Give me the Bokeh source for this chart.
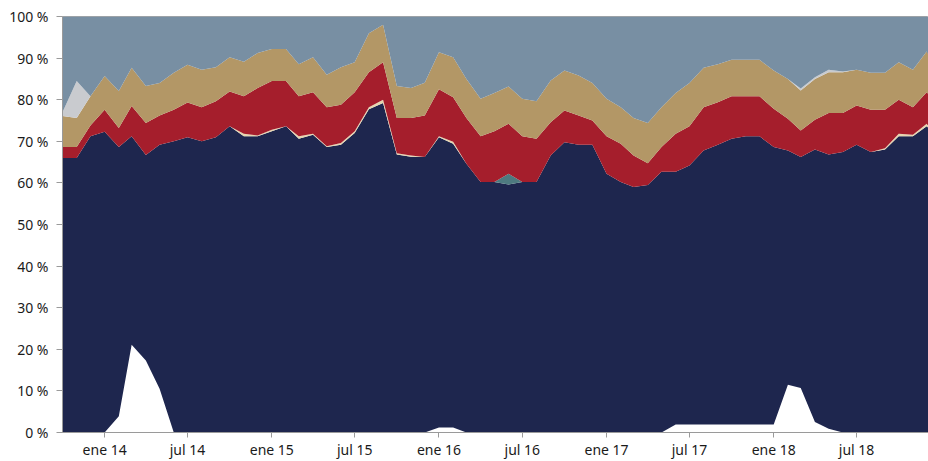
from datetime import datetime
import pandas as pd
from bokeh.plotting import figure
from bokeh.models import ColumnDataSource, FixedTicker, Range1d
from bokeh.embed import file_html
from bokeh.resources import INLINE

# ---- data (monthly shares, %, stacked bottom -> top) ----
months = pd.date_range("2013-10-01", periods=64, freq="MS")

white = [0, 0, 0, 0, 3.9, 21.1, 17.3, 10.5, 0, 0,
         0, 0, 0, 0, 0, 0, 0, 0, 0, 0,
         0, 0, 0, 0, 0, 0, 0, 1.2, 1.2, 0,
         0, 0, 0, 0, 0, 0, 0, 0, 0, 0,
         0, 0, 0, 0, 1.9, 1.9, 1.9, 1.9, 1.9, 1.9,
         1.9, 1.9, 11.5, 10.7, 2.5, 0.9, 0, 0, 0, 0,
         0, 0, 0, 0]

navy = [66.0, 66.0, 71.2, 72.3, 64.7, 50.1, 49.4, 58.7, 70.0, 71.0,
        70.0, 71.0, 73.6, 71.2, 71.2, 72.4, 73.6, 70.6, 71.6, 68.6,
        69.2, 72.0, 77.7, 79.2, 66.8, 66.3, 66.2, 69.8, 68.2, 64.6,
        60.2, 60.2, 59.6, 60.2, 60.2, 66.6, 69.8, 69.2, 69.2, 62.2,
        60.2, 59.0, 59.5, 62.7, 60.8, 62.3, 65.9, 67.3, 68.7, 69.3,
        69.3, 66.7, 56.3, 55.5, 65.5, 65.9, 67.4, 69.2, 67.4, 68.0,
        71.2, 71.2, 73.6, 70.4]

cream = [0, 0, 0, 0, 0, 0, 0, 0, 0, 0,
         0, 0, 0, 0.6, 0.2, 0.4, 0, 0.6, 0.2, 0.2,
         0.4, 0.4, 0.5, 0.8, 0.3, 0.3, 0, 0.2, 0.5, 0,
         0, 0, 0, 0, 0, 0, 0, 0, 0, 0,
         0, 0, 0, 0, 0, 0, 0, 0, 0, 0,
         0, 0, 0, 0, 0, 0, 0, 0, 0, 0.3,
         0.6, 0.4, 0.6, 0.3]

teal = [0, 0, 0, 0, 0, 0, 0, 0, 0, 0,
        0, 0, 0, 0, 0, 0, 0, 0, 0, 0,
        0, 0, 0, 0, 0, 0, 0, 0, 0, 0,
        0, 0, 2.6, 0, 0, 0, 0, 0, 0, 0,
        0, 0, 0, 0, 0, 0, 0, 0, 0, 0,
        0, 0, 0, 0, 0, 0, 0, 0, 0, 0,
        0, 0, 0, 0]

red = [2.6, 2.6, 2.6, 5.3, 4.6, 7.3, 7.7, 7.0, 7.6, 8.3,
       8.2, 8.6, 8.4, 9.0, 11.4, 11.7, 10.9, 9.6, 10.0, 9.4,
       9.2, 9.4, 8.4, 9.0, 8.5, 9.0, 10.0, 11.3, 10.7, 11.0,
       11.0, 12.2, 12.0, 11.0, 10.4, 8.0, 7.6, 7.0, 5.8, 9.0,
       9.2, 7.6, 5.2, 5.9, 9.1, 9.4, 10.4, 10.2, 10.2, 9.6,
       9.6, 9.2, 7.6, 6.4, 7.2, 10.0, 9.4, 9.4, 10.2, 9.3,
       8.2, 6.6, 7.6, 7.2]

tan = [7.5, 7.0, 7.0, 8.1, 8.9, 9.2, 8.9, 7.8, 8.9, 9.1,
       9.0, 8.2, 8.2, 8.3, 8.4, 7.7, 7.7, 7.7, 8.4, 7.8,
       9.0, 7.2, 9.4, 9.0, 7.7, 7.2, 7.9, 8.9, 9.6, 9.4,
       9.0, 9.2, 9.0, 9.0, 9.0, 10.0, 9.6, 9.6, 9.0, 9.0,
       8.8, 9.0, 9.7, 9.6, 9.8, 10.4, 9.5, 9.1, 8.8, 8.8,
       8.8, 9.2, 9.6, 9.6, 9.8, 9.8, 9.8, 8.6, 8.9, 8.9,
       9.0, 9.0, 9.8, 6.9]

gray = [0.9, 8.9, 0, 0, 0, 0, 0, 0, 0, 0,
        0, 0, 0, 0, 0, 0, 0, 0, 0, 0,
        0, 0, 0, 0, 0, 0, 0, 0, 0, 0,
        0, 0, 0, 0, 0, 0, 0, 0, 0, 0,
        0, 0, 0, 0, 0, 0, 0, 0, 0, 0,
        0, 0, 0, 0.5, 0.4, 0.6, 0.2, 0, 0, 0,
        0, 0, 0, 0]

# remainder up to 100 %
rest = [round(100 - sum(v), 1) for v in zip(white, navy, cream, teal, red, tan, gray)]

tick_dates = ["2014-01-01", "2014-07-01", "2015-01-01", "2015-07-01", "2016-01-01",
              "2016-07-01", "2017-01-01", "2017-07-01", "2018-01-01", "2018-07-01"]
tick_labels = ["ene 14", "jul 14", "ene 15", "jul 15", "ene 16",
               "jul 16", "ene 17", "jul 17", "ene 18", "jul 18"]
y_ticks = [0, 10, 20, 30, 40, 50, 60, 70, 80, 90, 100]

names = ["white", "navy", "cream", "teal", "red", "tan", "gray", "rest"]
colors = ["#ffffff", "#1e264e", "#e6d6b0", "#4e7a80", "#a51e2c", "#b39766", "#c9cbcf", "#788fa3"]

source = ColumnDataSource(dict(date=months, white=white, navy=navy, cream=cream, teal=teal,
                               red=red, tan=tan, gray=gray, rest=rest))

p = figure(width=928, height=461, x_axis_type="datetime",
           x_range=Range1d(datetime(2013, 10, 1), datetime(2018, 12, 5)),
           y_range=Range1d(0, 100),
           output_backend="svg", toolbar_location=None,
           min_border_left=62, min_border_right=0, min_border_top=16, min_border_bottom=29)

p.varea_stack(stackers=names, x="date", color=colors, source=source)

FONT = "Noto Sans"
tick_ms = [pd.Timestamp(d).timestamp() * 1000.0 for d in tick_dates]
p.xaxis.ticker = FixedTicker(ticks=tick_ms)
p.xaxis.major_label_overrides = {t: lab for t, lab in zip(tick_ms, tick_labels)}
p.yaxis.ticker = FixedTicker(ticks=y_ticks)
p.yaxis.major_label_overrides = {v: f"{v} %" for v in y_ticks}

for ax in (p.xaxis, p.yaxis):
    ax.axis_line_color = "#9a9a9a"
    ax.major_tick_line_color = "#9a9a9a"
    ax.minor_tick_line_color = None
    ax.major_tick_in = 0
    ax.major_label_text_font = FONT
    ax.major_label_text_font_size = "14px"
    ax.major_label_text_color = "#1a1a1a"

p.xaxis.major_tick_out = 5
p.xaxis.major_label_standoff = 2
p.yaxis.major_tick_out = 6
p.yaxis.major_label_standoff = 8

p.xgrid.grid_line_color = None
p.ygrid.grid_line_color = None
p.outline_line_color = "#a8a8a8"
p.background_fill_color = "#ffffff"
p.border_fill_color = "#ffffff"

open("out.html", "w").write(file_html(p, INLINE))
